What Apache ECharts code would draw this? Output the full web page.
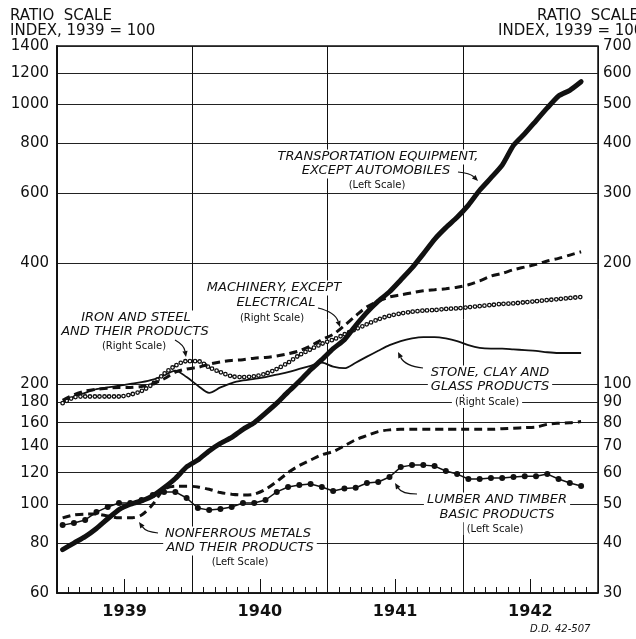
<!DOCTYPE html>
<html>
<head>
<meta charset="utf-8">
<script src="https://cdn.jsdelivr.net/npm/echarts@6/dist/echarts.min.js"></script>
<style>
    html, body { margin: 0; padding: 0; background: #fff; }
    #chart { width: 636px; height: 639px; }
</style>
</head>
<body>
<div id="chart"></div>
<script>
// monthly index numbers, Jan 1939 .. Nov 1942 (1939 = 100)
const yearLabels = ["1939", "1940", "1941", "1942"];
const leftTicks = [60, 80, 100, 120, 140, 160, 180, 200, 400, 600, 800, 1000, 1200, 1400];
const rightTicks = [30, 40, 50, 60, 70, 80, 90, 100, 200, 300, 400, 500, 600, 700];

// left scale
const transportation = [77, 80, 83, 87, 92, 97, 100, 102, 105, 110, 116, 124,
    129, 136, 142, 147, 154, 160, 169, 179, 191, 203, 217, 230,
    245, 258, 280, 302, 322, 340, 364, 390, 423, 460, 492, 522,
    560, 610, 655, 705, 790, 845, 910, 980, 1050, 1085, 1140];
const nonferrous = [92.5, 94, 94.5, 94.5, 93.5, 92.5, 92.5, 94, 100, 109, 111, 111,
    110.5, 109, 107, 106, 105.5, 106, 109, 114, 120, 125, 129, 133,
    135.5, 140, 145, 148.5, 152, 153.5, 154, 154, 154, 154, 154, 154,
    154, 154, 154, 154.5, 155, 155.5, 156, 158.5, 159.5, 160, 161];
const lumber = [88.7, 89.8, 91.4, 95.6, 98.5, 100.7, 100.7, 102.5, 105.5, 107.4, 107.4, 103.7,
    97.9, 96.7, 97.3, 98.5, 100.7, 100.7, 102.5, 107.4, 110.5, 111.7, 112.4, 110.5,
    108, 109.5, 110, 113, 113.7, 117, 123.9, 125.3, 125.3, 124.6, 121.1, 119,
    115.7, 115.7, 116.3, 116.3, 117, 117.6, 117.6, 119, 115.7, 113, 111.1];

// right scale
const machinery = [91, 94, 96, 97, 97.5, 98, 98, 98.5, 100, 103, 107, 109,
    110, 112, 113.5, 114.5, 115, 116, 116.5, 117.5, 119, 121, 124.5, 129,
    133, 140, 148, 156, 161, 165, 167, 169, 171, 172, 173, 174.5,
    177, 181, 186, 189, 193, 196, 199, 203, 206, 210, 214];
const ironSteel = [89.5, 92.5, 93, 93, 93, 93, 94, 96, 100, 106, 111, 114,
    114, 110, 107, 104.5, 104, 104.5, 106, 109, 113, 118, 122, 126,
    129, 133, 137, 141, 145, 148, 150, 151.5, 152.5, 153, 154, 154.5,
    155.5, 156.5, 157.5, 158.5, 159, 160, 161, 162, 163, 164, 165];
const stoneClay = [90, 93, 95, 97, 98, 99, 100, 101, 102.5, 105, 108, 104,
    99, 95, 98, 100.5, 102, 103, 104, 105.5, 107, 109, 111, 113,
    110.5, 109.5, 113, 117, 121, 125, 128, 130, 131, 131, 130, 128,
    125, 123, 122.5, 122.5, 122, 121.5, 121, 120, 119.5, 119.5, 119.5];

const INK = "#111";
const FONT = "DejaVu Sans";

// month i is plotted at its middle
const toPoints = function (values) {
    return values.map((v, i) => [i + 0.5, v]);
};

const textLine = function (str, x, y, size, italic) {
    return {
        type: "text", x: x, y: y, z: 50,
        style: {
            text: str, fill: INK, align: "center", verticalAlign: "middle",
            font: (italic ? "italic " : "") + size + "px '" + FONT + "'",
            backgroundColor: "#fff", padding: [1, 3]
        }
    };
};

const arrow = function (x1, y1, cx, cy, x2, y2) {
    let ang = Math.atan2(y2 - cy, x2 - cx);
    let len = 6, wid = 2.6;
    let bx = x2 - Math.cos(ang) * len, by = y2 - Math.sin(ang) * len;
    let nx = -Math.sin(ang) * wid, ny = Math.cos(ang) * wid;
    return [{
        type: "bezierCurve", z: 51,
        shape: {x1: x1, y1: y1, cpx1: cx, cpy1: cy, x2: bx, y2: by},
        style: {stroke: INK, lineWidth: 1.2, fill: null}
    }, {
        type: "polygon", z: 51,
        shape: {points: [[x2, y2], [bx + nx, by + ny], [bx - nx, by - ny]]},
        style: {fill: INK}
    }];
};

const titleFont = "15px '" + FONT + "'";
let graphics = [
    {type: "text", x: 10, y: 16, style: {text: "RATIO  SCALE", fill: INK, font: titleFont, verticalAlign: "middle"}},
    {type: "text", x: 10, y: 31, style: {text: "INDEX, 1939 = 100", fill: INK, font: titleFont, verticalAlign: "middle"}},
    {type: "text", x: 537, y: 16, style: {text: "RATIO  SCALE", fill: INK, font: titleFont, verticalAlign: "middle"}},
    {type: "text", x: 498, y: 31, style: {text: "INDEX, 1939 = 100", fill: INK, font: titleFont, verticalAlign: "middle"}},
    {type: "text", x: 530, y: 629, style: {text: "D.D. 42-507", fill: INK, font: "italic 10px '" + FONT + "'", verticalAlign: "middle"}},

    textLine("TRANSPORTATION EQUIPMENT,", 378, 157, 13, true),
    textLine("EXCEPT AUTOMOBILES", 376, 171, 13, true),
    textLine("(Left Scale)", 377, 185, 10, false),

    textLine("MACHINERY, EXCEPT", 274, 288, 13, true),
    textLine("ELECTRICAL", 276, 303, 13, true),
    textLine("(Right Scale)", 272, 318, 10, false),

    textLine("IRON AND STEEL", 136, 318, 13, true),
    textLine("AND THEIR PRODUCTS", 135, 332, 13, true),
    textLine("(Right Scale)", 134, 346, 10, false),

    textLine("STONE, CLAY AND", 490, 373, 13, true),
    textLine("GLASS PRODUCTS", 490, 387, 13, true),
    textLine("(Right Scale)", 487, 402, 10, false),

    textLine("LUMBER AND TIMBER", 497, 500, 13, true),
    textLine("BASIC PRODUCTS", 497, 515, 13, true),
    textLine("(Left Scale)", 495, 529, 10, false),

    textLine("NONFERROUS METALS", 238, 534, 13, true),
    textLine("AND THEIR PRODUCTS", 240, 548, 13, true),
    textLine("(Left Scale)", 240, 562, 10, false)
];
graphics = graphics
    .concat(arrow(458, 172, 470, 173, 478, 181))
    .concat(arrow(318, 308, 335, 312, 340, 327))
    .concat(arrow(175, 340, 184, 345, 186, 357))
    .concat(arrow(423, 368, 405, 366, 398, 352))
    .concat(arrow(417, 494, 402, 494, 395, 483))
    .concat(arrow(158, 533, 146, 532, 139, 522));

const hiddenX = {
    type: "value", min: 0, max: 48, position: "bottom",
    axisLine: {show: false}, axisLabel: {show: false}, axisTick: {show: false}, splitLine: {show: false}
};

const plainNumber = v => String(Math.round(v));

const option = {
    animation: false,
    backgroundColor: "#fff",
    grid: {left: 57, right: 38, top: 46, bottom: 46, show: true, borderColor: INK, borderWidth: 1.5, backgroundColor: "transparent"},
    xAxis: [{
        type: "value", min: 0, max: 48, interval: 1, position: "bottom",
        axisLine: {lineStyle: {color: INK, width: 1.5}},
        axisTick: {inside: true, length: 6, lineStyle: {color: INK, width: 1}},
        axisLabel: {
            customValues: [6, 18, 30, 42], margin: 11,
            formatter: v => yearLabels[Math.floor(v / 12)],
            color: INK, fontSize: 16, fontWeight: "bold", fontFamily: FONT
        },
        splitLine: {show: false}
    }, Object.assign({}, hiddenX, {
        interval: 12,
        splitLine: {show: true, lineStyle: {color: INK, width: 1}}
    }), Object.assign({}, hiddenX, {
        axisTick: {show: true, inside: true, length: 14, customValues: [6, 18, 30, 42], lineStyle: {color: INK, width: 1}}
    })],
    yAxis: [{
        type: "log", logBase: 10, min: 60, max: 1400, position: "left",
        axisLine: {show: true, lineStyle: {color: INK, width: 1.5}},
        axisTick: {show: false, customValues: leftTicks},
        axisLabel: {customValues: leftTicks, formatter: plainNumber, margin: 8, color: INK, fontSize: 15, fontFamily: FONT},
        splitLine: {show: true, lineStyle: {color: "#222", width: 1}}
    }, {
        type: "log", logBase: 10, min: 30, max: 700, position: "right",
        axisLine: {show: true, lineStyle: {color: INK, width: 1.5}},
        axisTick: {show: false, customValues: rightTicks},
        axisLabel: {customValues: rightTicks, formatter: plainNumber, margin: 5, color: INK, fontSize: 15, fontFamily: FONT},
        splitLine: {show: false}
    }],
    series: [{
        name: "Stone, clay and glass products", type: "line", yAxisIndex: 1,
        data: toPoints(stoneClay), smooth: 0.3, showSymbol: false,
        lineStyle: {color: INK, width: 1.8}
    }, {
        name: "Iron and steel (rings)", type: "line", yAxisIndex: 1,
        data: toPoints(ironSteel), smooth: 0.3, showSymbol: false,
        lineStyle: {color: INK, width: 4.8, type: [0, 4.8], cap: "round"}
    }, {
        name: "Iron and steel (ring centres)", type: "line", yAxisIndex: 1,
        data: toPoints(ironSteel), smooth: 0.3, showSymbol: false,
        lineStyle: {color: "#fff", width: 2.2, type: [0, 4.8], cap: "round"}
    }, {
        name: "Machinery, except electrical", type: "line", yAxisIndex: 1,
        data: toPoints(machinery), smooth: 0.3, showSymbol: false,
        lineStyle: {color: INK, width: 3, type: [8, 5]}
    }, {
        name: "Nonferrous metals", type: "line", yAxisIndex: 0,
        data: toPoints(nonferrous), smooth: 0.3, showSymbol: false,
        lineStyle: {color: INK, width: 3, type: [8, 5]}
    }, {
        name: "Lumber and timber", type: "line", yAxisIndex: 0,
        data: toPoints(lumber), smooth: false, symbol: "circle", symbolSize: 6,
        itemStyle: {color: INK}, lineStyle: {color: INK, width: 1.5}
    }, {
        name: "Transportation equipment", type: "line", yAxisIndex: 0,
        data: toPoints(transportation), smooth: 0.2, showSymbol: false,
        lineStyle: {color: INK, width: 5, cap: "round", join: "round"}
    }],
    graphic: graphics
};

let chart = echarts.init(document.getElementById("chart"), null, {renderer: "canvas"});
chart.setOption(option);
</script>
</body>
</html>
